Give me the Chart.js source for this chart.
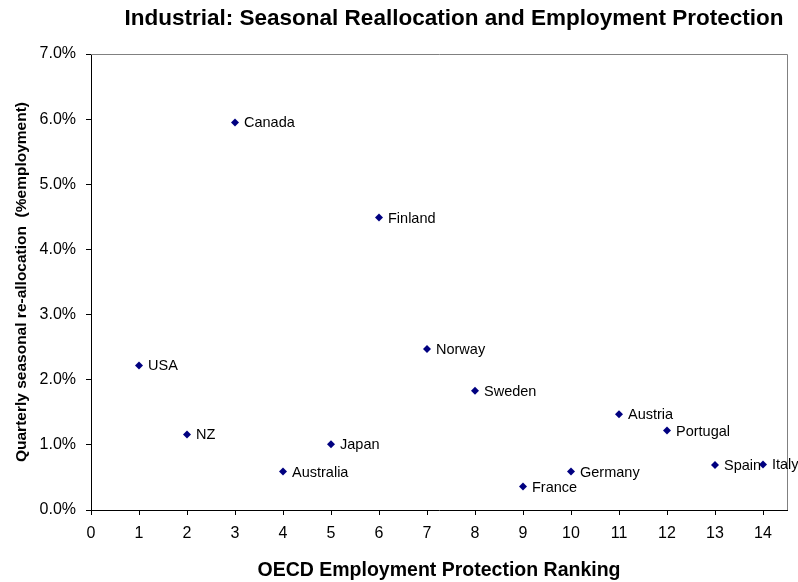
<!DOCTYPE html>
<html>
<head>
<meta charset="utf-8">
<script src="https://cdn.jsdelivr.net/npm/chart.js@4.4.0/dist/chart.umd.min.js"></script>
<style>
  html, body { margin: 0; padding: 0; background: #fff; }
  #wrap { width: 798px; height: 582px; }
</style>
</head>
<body>
<div id="wrap"><canvas id="chart" width="798" height="582"></canvas></div>
<script>
// Country, OECD ranking and seasonal reallocation (% of employment)
const countries = ['USA', 'NZ', 'Canada', 'Australia', 'Japan', 'Finland', 'Norway',
                   'Sweden', 'France', 'Germany', 'Austria', 'Portugal', 'Spain', 'Italy'];
const ranking = [1, 2, 3, 4, 5, 6, 7, 8, 9, 10, 11, 12, 13, 14];
const reallocation = [2.22, 1.16, 5.95, 0.59, 1.01, 4.49, 2.47, 1.83, 0.36, 0.59, 1.47, 1.22, 0.69, 0.70];
const xTickValues = [0, 1, 2, 3, 4, 5, 6, 7, 8, 9, 10, 11, 12, 13, 14];
const yTickValues = [0, 1, 2, 3, 4, 5, 6, 7];

const FONT = '"Liberation Sans", Arial, sans-serif';
const NAVY = '#000080';

const points = ranking.map((r, i) => ({ x: r, y: reallocation[i] }));

// country names next to each marker
const pointLabels = {
    id: 'pointLabels',
    afterDatasetsDraw(chart) {
        const ctx = chart.ctx;
        const meta = chart.getDatasetMeta(0);
        ctx.save();
        ctx.font = '14.5px ' + FONT;
        ctx.fillStyle = '#000';
        ctx.textAlign = 'left';
        ctx.textBaseline = 'middle';
        meta.data.forEach((pt, i) => {
            ctx.fillText(countries[i], pt.x + 9, pt.y + 1);
        });
        ctx.restore();
    }
};

// grey frame on top and right of the plot, plus the chart title
const frameAndTitle = {
    id: 'frameAndTitle',
    beforeDatasetsDraw(chart) {
        const { ctx, chartArea } = chart;
        ctx.save();
        ctx.strokeStyle = '#808080';
        ctx.lineWidth = 1;
        ctx.beginPath();
        ctx.moveTo(chartArea.left, chartArea.top + 0.5);
        ctx.lineTo(chartArea.right + 0.5, chartArea.top + 0.5);
        ctx.lineTo(chartArea.right + 0.5, chartArea.bottom);
        ctx.stroke();
        ctx.restore();
    },
    afterDraw(chart) {
        const ctx = chart.ctx;
        ctx.save();
        ctx.font = 'bold 22.5px ' + FONT;
        ctx.fillStyle = '#000';
        ctx.textAlign = 'center';
        ctx.textBaseline = 'middle';
        ctx.fillText('Industrial: Seasonal Reallocation and Employment Protection', 454, 19);
        ctx.restore();
    }
};

new Chart(document.getElementById('chart'), {
    type: 'scatter',
    data: {
        datasets: [{
            data: points,
            pointStyle: 'rectRot',
            pointRadius: 4,
            pointBorderWidth: 0,
            backgroundColor: NAVY,
            borderColor: NAVY
        }]
    },
    options: {
        responsive: false,
        devicePixelRatio: 1,
        animation: false,
        events: [],
        layout: { padding: { top: 54, right: 11, left: 0, bottom: 0 } },
        plugins: {
            legend: { display: false },
            tooltip: { enabled: false }
        },
        scales: {
            x: {
                type: 'linear',
                min: 0,
                max: 14.5,
                afterBuildTicks: scale => { scale.ticks = xTickValues.map(v => ({ value: v })); },
                afterFit: scale => { scale.height = 72; },
                ticks: { font: { size: 16, family: FONT }, color: '#000', padding: 9 },
                grid: { drawOnChartArea: false, drawTicks: true, tickLength: 5, color: '#000' },
                border: { color: '#000', width: 1 },
                title: {
                    display: true,
                    text: 'OECD Employment Protection Ranking',
                    color: '#000',
                    font: { size: 19.5, weight: 'bold', family: FONT },
                    padding: { top: 0, bottom: 0 }
                }
            },
            y: {
                min: 0,
                max: 7,
                afterBuildTicks: scale => { scale.ticks = yTickValues.map(v => ({ value: v })); },
                afterFit: scale => { scale.width = 91; },
                ticks: {
                    font: { size: 16, family: FONT },
                    color: '#000',
                    padding: 10,
                    callback: v => v.toFixed(1) + '%'
                },
                grid: { drawOnChartArea: false, drawTicks: true, tickLength: 5, color: '#000' },
                border: { color: '#000', width: 1 },
                title: {
                    display: true,
                    text: 'Quarterly seasonal re-allocation  (%employment)',
                    color: '#000',
                    font: { size: 15.5, weight: 'bold', family: FONT },
                    padding: { top: 12, bottom: 0 }
                }
            }
        }
    },
    plugins: [frameAndTitle, pointLabels]
});
</script>
</body>
</html>
